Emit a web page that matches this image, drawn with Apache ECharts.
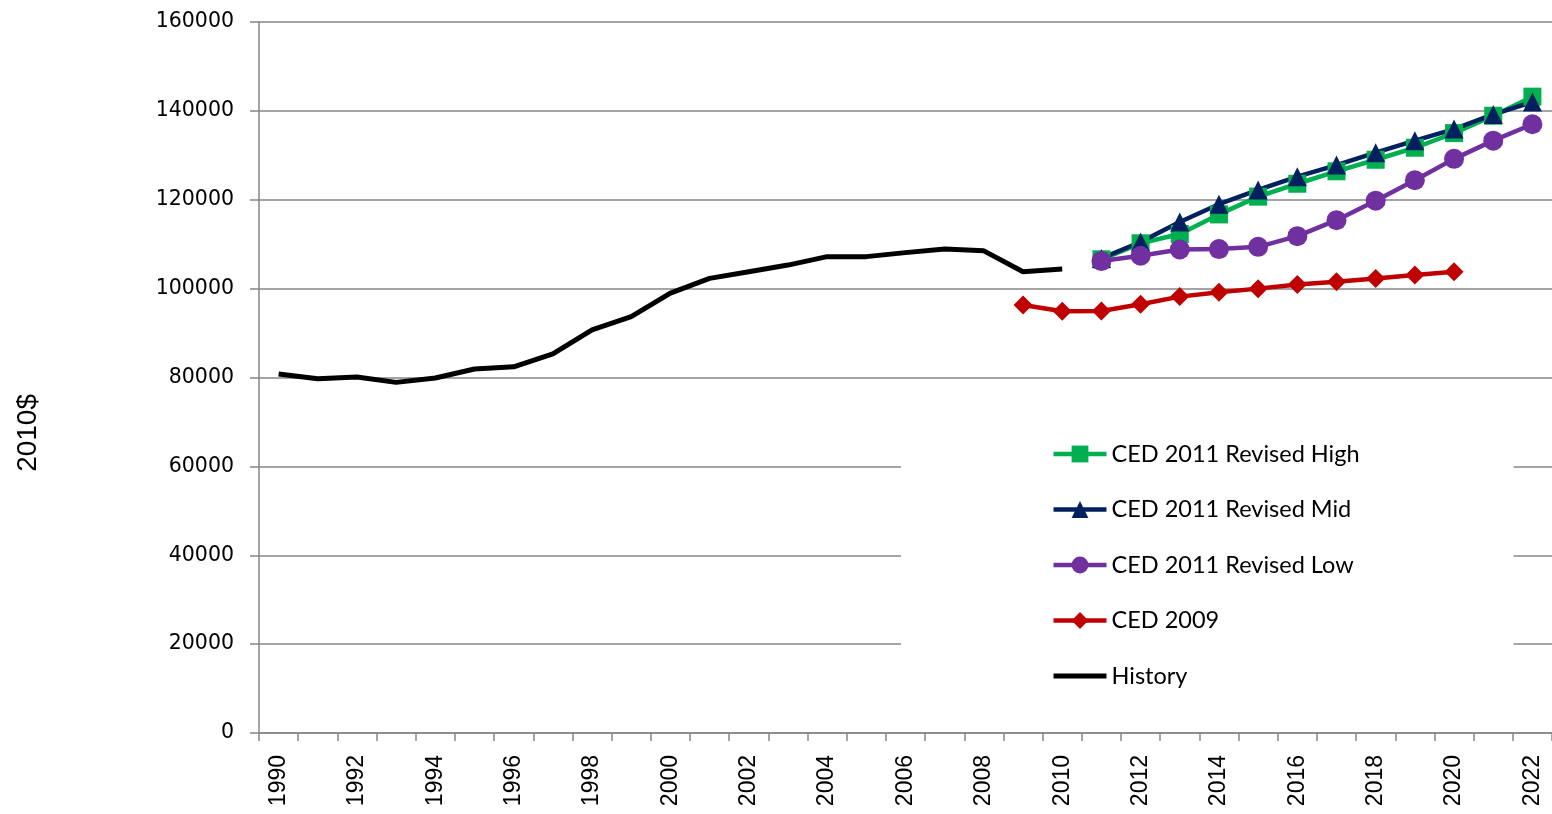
<!DOCTYPE html>
<html>
<head>
<meta charset="utf-8">
<script src="https://cdn.jsdelivr.net/npm/echarts@6/dist/echarts.min.js"></script>
<style>
html,body{margin:0;padding:0;background:#fff;}
#chart{width:1552px;height:814px;}
</style>
</head>
<body>
<div id="chart"></div>
<script>
var years = [];
for (var y = 1990; y <= 2022; y++) years.push(String(y));

var historyVals = [80800, 79700, 80100, 78900, 79900, 81900, 82400, 85300, 90700, 93700, 99000, 102300, 103800, 105300, 107200, 107200, 108100, 108900, 108500, 103800, 104400];
var ced2009Vals = [96300, 94900, 94950, 96500, 98200, 99200, 100000, 100950, 101550, 102300, 103050, 103800];
var lowVals = [106200, 107400, 108800, 108900, 109400, 111800, 115400, 119800, 124400, 129200, 133300, 137000];
var midVals = [106800, 110500, 115000, 119000, 122200, 125200, 127800, 130600, 133300, 135900, 139200, 142000];
var highVals = [106600, 110200, 112300, 116700, 120700, 123600, 126400, 129000, 131700, 135000, 138900, 143200];

var seriesNames = ['CED 2011 Revised High', 'CED 2011 Revised Mid', 'CED 2011 Revised Low', 'CED 2009', 'History'];
var yAxisTitle = '2010$';

function place(startYear, vals) {
  var out = years.map(function () { return null; });
  var off = startYear - 1990;
  vals.forEach(function (v, i) { out[off + i] = v; });
  return out;
}

var chart = echarts.init(document.getElementById('chart'), null, {renderer: 'canvas'});
var axisGray = '#868686';
var option = {
  animation: false,
  backgroundColor: '#ffffff',
  textStyle: {fontFamily: 'Liberation Sans'},
  grid: {left: 259, right: -8, top: 22, bottom: 81, containLabel: false},
  graphic: [{
    type: 'text',
    left: 14,
    top: 394,
    rotation: Math.PI / 2,
    style: {text: yAxisTitle, fontFamily: 'Liberation Sans', fontSize: 28, fill: '#000'}
  }],
  legend: {
    orient: 'vertical',
    left: 901,
    top: 423,
    data: [
      {name: seriesNames[0]},
      {name: seriesNames[1]},
      {name: seriesNames[2]},
      {name: seriesNames[3]},
      {name: seriesNames[4], itemStyle: {opacity: 0}}
    ],
    backgroundColor: '#ffffff',
    padding: [19, 154, 26, 150],
    itemWidth: 53,
    itemHeight: 21,
    itemGap: 31.5,
    lineStyle: {width: 'inherit'},
    textStyle: {fontFamily: 'Lato', fontSize: 23.5, color: '#000', lineHeight: 22}
  },
  xAxis: {
    type: 'category',
    data: years,
    boundaryGap: true,
    axisLine: {lineStyle: {color: axisGray, width: 1.5}},
    axisTick: {show: true, interval: 0, alignWithLabel: false, length: 8, lineStyle: {color: axisGray, width: 1.5}},
    axisLabel: {interval: 1, rotate: 90, margin: 22, fontFamily: 'Liberation Sans', fontSize: 23, color: '#000'},
    splitLine: {show: false}
  },
  yAxis: {
    type: 'value',
    min: 0,
    max: 160000,
    interval: 20000,
    axisLine: {show: true, lineStyle: {color: axisGray, width: 1.5}},
    axisTick: {show: true, inside: false, length: 9, lineStyle: {color: axisGray, width: 1.5}},
    axisLabel: {
      margin: 25, fontFamily: 'DejaVu Sans', fontSize: 20.5, color: '#000',
      formatter: function (v) { return String(v); }
    },
    splitLine: {show: true, lineStyle: {color: axisGray, width: 1.5}}
  },
  series: [
    {
      name: seriesNames[0], type: 'line', data: place(2011, highVals),
      symbol: 'rect', symbolSize: 18, showAllSymbol: true,
      lineStyle: {color: '#00B050', width: 4.5}, itemStyle: {color: '#00B050'}
    },
    {
      name: seriesNames[1], type: 'line', data: place(2011, midVals),
      symbol: 'triangle', symbolSize: 19, showAllSymbol: true,
      lineStyle: {color: '#002060', width: 4.5}, itemStyle: {color: '#002060'}
    },
    {
      name: seriesNames[2], type: 'line', data: place(2011, lowVals),
      symbol: 'circle', symbolSize: 20, showAllSymbol: true,
      lineStyle: {color: '#7030A0', width: 4.5}, itemStyle: {color: '#7030A0'}
    },
    {
      name: seriesNames[3], type: 'line', data: place(2009, ced2009Vals),
      symbol: 'diamond', symbolSize: 19, showAllSymbol: true,
      lineStyle: {color: '#C00000', width: 4.5}, itemStyle: {color: '#C00000'}
    },
    {
      name: seriesNames[4], type: 'line', data: place(1990, historyVals),
      symbol: 'none',
      lineStyle: {color: '#000000', width: 5}, itemStyle: {color: '#000000'}
    }
  ]
};
chart.setOption(option);
</script>
</body>
</html>
